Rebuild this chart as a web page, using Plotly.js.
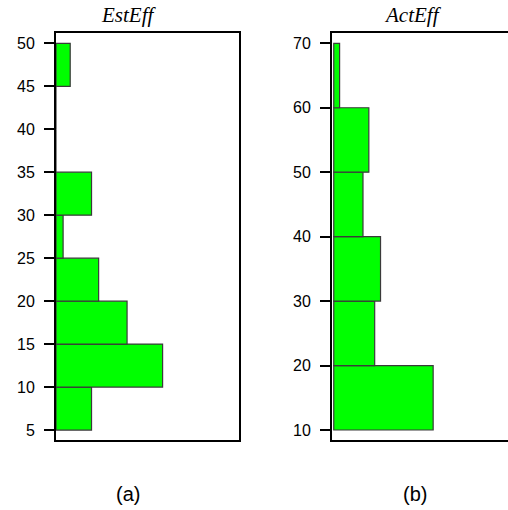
<!DOCTYPE html>
<html>
<head>
<meta charset="utf-8">
<script src="https://cdn.plot.ly/plotly-3.0.1.min.js"></script>
<style>html,body{margin:0;padding:0;background:#fff;}#chart{width:508px;height:510px;}</style>
</head>
<body>
<div id="chart"></div>
<script>
// EstEff histogram (bin lower edges, bin width 5) and counts
const estEdges = [5, 10, 15, 20, 25, 30, 35, 40, 45];
const estCounts = [5, 15, 10, 6, 1, 5, 0, 0, 2];
const estBinWidth = 5;
// ActEff histogram (bin lower edges, bin width 10) and counts
const actEdges = [10, 20, 30, 40, 50, 60];
const actCounts = [17, 7, 8, 5, 6, 1];
const actBinWidth = 10;
const titles = ['EstEff', 'ActEff'];
const captions = ['(a)', '(b)'];

const green = '#00ff00';
const barLine = {color: '#3a3a3a', width: 1.2};

const traces = [
  {
    type: 'bar', orientation: 'h',
    y: estEdges.map(e => e + estBinWidth / 2),
    x: estCounts,
    width: estEdges.map(() => estBinWidth),
    marker: {color: green, line: barLine},
    xaxis: 'x', yaxis: 'y', hoverinfo: 'none'
  },
  {
    type: 'bar', orientation: 'h',
    y: actEdges.map(e => e + actBinWidth / 2),
    x: actCounts,
    width: actEdges.map(() => actBinWidth),
    marker: {color: green, line: barLine},
    xaxis: 'x2', yaxis: 'y2', hoverinfo: 'none'
  }
];

const tickFont = {family: 'Liberation Sans, Arial, sans-serif', size: 16, color: '#000'};
const W = 508, H = 510;

const layout = {
  width: W, height: H,
  margin: {l: 0, r: 0, t: 0, b: 0},
  paper_bgcolor: '#fff', plot_bgcolor: '#fff',
  showlegend: false,
  bargap: 0,
  xaxis: {
    domain: [56 / W, 239 / W], range: [0, 25.75],
    showline: true, mirror: true, linecolor: '#000', linewidth: 2,
    showgrid: false, zeroline: false, ticks: '', showticklabels: false,
    fixedrange: true, automargin: false
  },
  yaxis: {
    domain: [(H - 440) / H, (H - 33) / H], range: [3.84, 51.2],
    tick0: 5, dtick: 5,
    showline: true, mirror: true, linecolor: '#000', linewidth: 2,
    ticks: 'outside', ticklen: 10, tickwidth: 2, tickcolor: '#000',
    ticklabelstandoff: 6,
    showgrid: false, zeroline: false, tickfont: tickFont,
    fixedrange: true, automargin: false
  },
  xaxis2: {
    domain: [332 / W, 1], range: [-0.3, 29.8],
    anchor: 'y2',
    showline: true, mirror: true, linecolor: '#000', linewidth: 2,
    showgrid: false, zeroline: false, ticks: '', showticklabels: false,
    fixedrange: true, automargin: false
  },
  yaxis2: {
    domain: [(H - 440) / H, (H - 33) / H], range: [8.45, 71.6],
    anchor: 'x2',
    tick0: 10, dtick: 10,
    showline: true, mirror: false, linecolor: '#000', linewidth: 2,
    ticks: 'outside', ticklen: 10, tickwidth: 2, tickcolor: '#000',
    ticklabelstandoff: 6,
    showgrid: false, zeroline: false, tickfont: tickFont,
    fixedrange: true, automargin: false
  },
  annotations: [
    {text: titles[0], xref: 'paper', yref: 'paper', x: 128 / W, y: (H - 15) / H,
     xanchor: 'center', yanchor: 'middle', showarrow: false,
     font: {family: 'Liberation Serif, Times New Roman, serif', size: 21, color: '#000', style: 'italic'}},
    {text: titles[1], xref: 'paper', yref: 'paper', x: 413 / W, y: (H - 15) / H,
     xanchor: 'center', yanchor: 'middle', showarrow: false,
     font: {family: 'Liberation Serif, Times New Roman, serif', size: 21, color: '#000', style: 'italic'}},
    {text: captions[0], xref: 'paper', yref: 'paper', x: 127.5 / W, y: (H - 494) / H,
     xanchor: 'center', yanchor: 'middle', showarrow: false,
     font: {family: 'Liberation Sans, Arial, sans-serif', size: 20, color: '#000'}},
    {text: captions[1], xref: 'paper', yref: 'paper', x: 415 / W, y: (H - 494) / H,
     xanchor: 'center', yanchor: 'middle', showarrow: false,
     font: {family: 'Liberation Sans, Arial, sans-serif', size: 20, color: '#000'}}
  ]
};

Plotly.newPlot('chart', traces, layout, {staticPlot: true, displayModeBar: false});
</script>
</body>
</html>
